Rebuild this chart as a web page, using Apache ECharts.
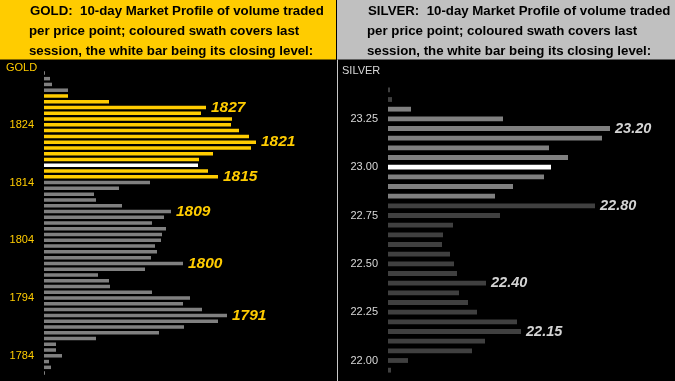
<!DOCTYPE html>
<html>
<head>
<meta charset="utf-8">
<script src="https://cdn.jsdelivr.net/npm/echarts@6/dist/echarts.min.js"></script>
<style>
html,body{margin:0;padding:0;background:#000;}
#chart{width:675px;height:381px;}
</style>
</head>
<body>
<div id="chart"></div>
<script>
// ---------- GOLD data (top to bottom) ----------
var goldPrices = [1833,1832,1831,1830,1829,1828,1827,1826,1825,1824,1823,1822,1821,1820,1819,1818,1817,1816,1815,1814,1813,1812,1811,1810,1809,1808,1807,1806,1805,1804,1803,1802,1801,1800,1799,1798,1797,1796,1795,1794,1793,1792,1791,1790,1789,1788,1787,1786,1785,1784,1783,1782,1781];
var goldVolume = [1,6,8,24,24,65,162,157,188,187,195,205,212,207,169,155,154,164,174,106,75,50,52,78,127,120,108,122,118,117,111,113,107,139,101,54,65,66,108,146,139,158,183,174,140,115,52,12,12,18,5,7,1];
var goldSessionHigh = 1829;
var goldSessionLow = 1815;
var goldClose = 1817;
var goldLabelled = [1827,1821,1815,1809,1800,1791];
var goldTicks = [1824,1814,1804,1794,1784];

// ---------- SILVER data (top to bottom) ----------
var silverPrices = ['23.40','23.35','23.30','23.25','23.20','23.15','23.10','23.05','23.00','22.95','22.90','22.85','22.80','22.75','22.70','22.65','22.60','22.55','22.50','22.45','22.40','22.35','22.30','22.25','22.20','22.15','22.10','22.05','22.00','21.95'];
var silverVolume = [2,4,23,115,222,214,161,180,163,156,125,107,207,112,65,55,54,62,66,69,98,71,80,89,129,133,97,84,20,3];
var silverSessionHigh = 23.30;
var silverSessionLow = 22.85;
var silverClose = '23.00';
var silverLabelled = ['23.20','22.80','22.40','22.15'];
var silverTicks = ['23.25','23.00','22.75','22.50','22.25','22.00'];

var headerFont = 'bold 13.25px "Liberation Sans", Arial, sans-serif';

function goldData() {
  return goldVolume.map(function (v, i) {
    var p = goldPrices[i];
    var col = '#808080';
    if (p <= goldSessionHigh && p >= goldSessionLow) col = '#FFCC00';
    if (p === goldClose) col = '#FFFFFF';
    var item = { value: v, itemStyle: { color: col } };
    if (goldLabelled.indexOf(p) >= 0) {
      item.label = { show: true };
    }
    return item;
  });
}
function silverData() {
  return silverVolume.map(function (v, i) {
    var s = silverPrices[i];
    var p = parseFloat(s);
    var col = '#404040';
    if (p <= silverSessionHigh + 1e-9 && p >= silverSessionLow - 1e-9) col = '#808080';
    if (s === silverClose) col = '#FFFFFF';
    var item = { value: v, itemStyle: { color: col } };
    if (silverLabelled.indexOf(s) >= 0) {
      item.label = { show: true };
    }
    return item;
  });
}

var chart = echarts.init(document.getElementById('chart'), null, { renderer: 'canvas' });

var option = {
  backgroundColor: '#000000',
  animation: false,
  grid: [
    { left: 44, top: 70, width: 290, height: 306 },
    { left: 388, top: 85, width: 280, height: 290 }
  ],
  xAxis: [
    { gridIndex: 0, type: 'value', min: 0, max: 290, show: false },
    { gridIndex: 1, type: 'value', min: 0, max: 280, show: false }
  ],
  yAxis: [
    {
      gridIndex: 0, type: 'category', inverse: true,
      data: goldPrices.map(String),
      axisLine: { show: false }, axisTick: { show: false }, splitLine: { show: false },
      axisLabel: {
        color: '#FFCC00', fontSize: 11, margin: 10,
        fontFamily: '"Liberation Sans", Arial, sans-serif',
        interval: function (idx, val) { return goldTicks.indexOf(parseInt(val, 10)) >= 0; }
      }
    },
    {
      gridIndex: 1, type: 'category', inverse: true,
      data: silverPrices,
      axisLine: { show: false }, axisTick: { show: false }, splitLine: { show: false },
      axisLabel: {
        color: '#D8D8D8', fontSize: 11, margin: 10,
        fontFamily: '"Liberation Sans", Arial, sans-serif',
        interval: function (idx, val) { return silverTicks.indexOf(val) >= 0; }
      }
    }
  ],
  series: [
    {
      type: 'bar', xAxisIndex: 0, yAxisIndex: 0, barWidth: 3.5,
      data: goldData(),
      label: {
        show: false, position: 'right', distance: 5,
        color: '#FFCC00', fontSize: 15.5, fontWeight: 'bold', fontStyle: 'italic',
        fontFamily: '"Liberation Sans", Arial, sans-serif',
        formatter: function (p) { return p.name; }
      }
    },
    {
      type: 'bar', xAxisIndex: 1, yAxisIndex: 1, barWidth: 4.8,
      data: silverData(),
      label: {
        show: false, position: 'right', distance: 5,
        color: '#D4D4D4', fontSize: 14.5, fontWeight: 'bold', fontStyle: 'italic',
        fontFamily: '"Liberation Sans", Arial, sans-serif',
        formatter: function (p) { return p.name; }
      }
    }
  ],
  graphic: [
    { type: 'rect', shape: { x: 0, y: 0, width: 336, height: 59.5 }, style: { fill: '#FFCC00' }, silent: true, z: -1 },
    { type: 'rect', shape: { x: 337, y: 0, width: 338, height: 59.5 }, style: { fill: '#C0C0C0' }, silent: true, z: -1 },
    { type: 'rect', shape: { x: 337, y: 59.5, width: 1, height: 322 }, style: { fill: '#C8C8C8' }, silent: true },
    { type: 'text', x: 30, y: 11, style: { text: 'GOLD:  10-day Market Profile of volume traded', font: headerFont, fill: '#000', verticalAlign: 'middle' } },
    { type: 'text', x: 29, y: 31, style: { text: 'per price point; coloured swath covers last', font: headerFont, fill: '#000', verticalAlign: 'middle' } },
    { type: 'text', x: 29, y: 51, style: { text: 'session, the white bar being its closing level:', font: headerFont, fill: '#000', verticalAlign: 'middle' } },
    { type: 'text', x: 368, y: 11, style: { text: 'SILVER:  10-day Market Profile of volume traded', font: headerFont, fill: '#000', verticalAlign: 'middle' } },
    { type: 'text', x: 367, y: 31, style: { text: 'per price point; coloured swath covers last', font: headerFont, fill: '#000', verticalAlign: 'middle' } },
    { type: 'text', x: 367, y: 51, style: { text: 'session, the white bar being its closing level:', font: headerFont, fill: '#000', verticalAlign: 'middle' } },
    { type: 'text', x: 6, y: 68, style: { text: 'GOLD', font: '11px "Liberation Sans", Arial, sans-serif', fill: '#FFCC00', verticalAlign: 'middle' } },
    { type: 'text', x: 342, y: 70.5, style: { text: 'SILVER', font: '11px "Liberation Sans", Arial, sans-serif', fill: '#D8D8D8', verticalAlign: 'middle' } }
  ]
};
chart.setOption(option);
</script>
</body>
</html>
